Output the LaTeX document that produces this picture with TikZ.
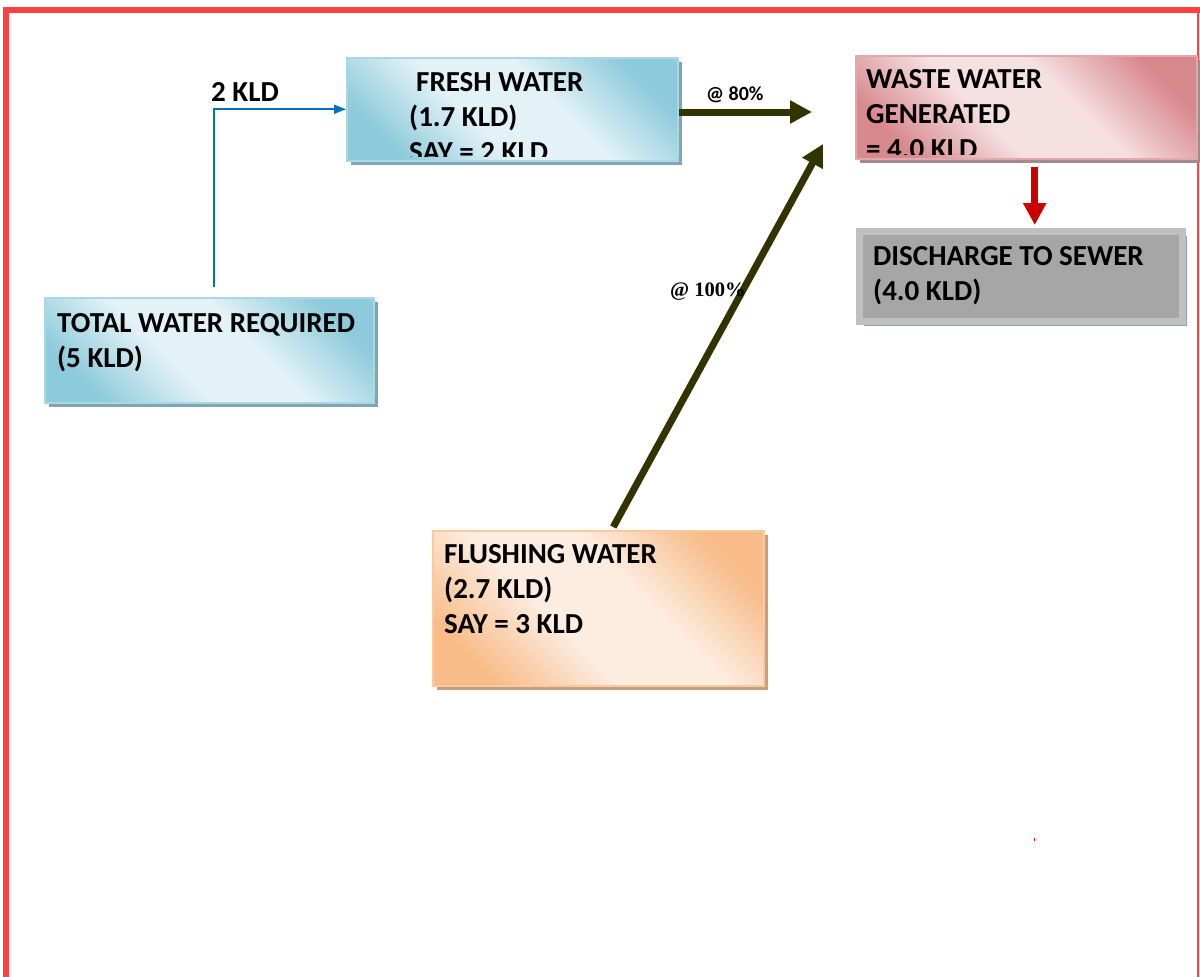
\documentclass[tikz,border=0pt]{standalone}
\usepackage{fontspec}
\setmainfont{Carlito}
\newfontfamily\serifbold{Liberation Serif}
\usepackage{xcolor}
\usetikzlibrary{arrows.meta,calc,shadows}

\definecolor{framered}{HTML}{FF4040}
\definecolor{blueedge}{HTML}{8DCADB}
\definecolor{bluemid}{HTML}{E3F2F7}
\definecolor{blueline}{HTML}{A9D8E4}
\definecolor{blueshadow}{HTML}{7FA6B2}
\definecolor{pinkedge}{HTML}{D8898E}
\definecolor{pinkmid}{HTML}{F6E1E2}
\definecolor{pinkline}{HTML}{E1A9AC}
\definecolor{pinkshadow}{HTML}{A58A8C}
\definecolor{orangeedge}{HTML}{F8BC88}
\definecolor{orangemid}{HTML}{FDEDE1}
\definecolor{orangeline}{HTML}{F9C9A0}
\definecolor{orangeshadow}{HTML}{C9A07F}
\definecolor{grayouter}{HTML}{C0C0C0}
\definecolor{grayinner}{HTML}{A6A6A6}
\definecolor{grayshadow}{HTML}{8CA6B0}
\definecolor{olivearrow}{HTML}{333300}
\definecolor{flowblue}{HTML}{0070C0}
\definecolor{sewerred}{HTML}{CC0000}

\pgfdeclareverticalshading{bluewash}{100bp}{color(0bp)=(blueedge); color(24bp)=(blueedge); color(42bp)=(bluemid); color(58bp)=(bluemid); color(76bp)=(blueedge); color(100bp)=(blueedge)}
\pgfdeclareverticalshading{pinkwash}{100bp}{color(0bp)=(pinkedge); color(24bp)=(pinkedge); color(42bp)=(pinkmid); color(58bp)=(pinkmid); color(76bp)=(pinkedge); color(100bp)=(pinkedge)}
\pgfdeclareverticalshading{orangewash}{100bp}{color(0bp)=(orangeedge); color(24bp)=(orangeedge); color(42bp)=(orangemid); color(58bp)=(orangemid); color(76bp)=(orangeedge); color(100bp)=(orangeedge)}

\begin{document}
\begin{tikzpicture}[
        x=1pt, y=-1pt,
        box/.style={rectangle, anchor=north west, inner sep=0pt, line width=1.5pt},
        shadowed/.style={drop shadow={shadow xshift=4pt, shadow yshift=-4pt, fill=#1, opacity=1}},
        bluebox/.style={box, draw=blueline, shading=bluewash, shading angle=-45, shadowed=blueshadow},
        pinkbox/.style={box, draw=pinkline, shading=pinkwash, shading angle=-45, shadowed=pinkshadow},
        orangebox/.style={box, draw=orangeline, shading=orangewash, shading angle=-45, shadowed=orangeshadow},
        graybox/.style={box, draw=grayouter, fill=grayinner, line width=7pt, shadowed=grayshadow},
        boxtext/.style={anchor=base west, inner sep=0pt, align=left, font=\fontsize{29pt}{35pt}\selectfont\bfseries},
        flowline/.style={draw=flowblue, line width=1.6pt, -{Triangle[length=12pt,width=9pt]}},
        thickflow/.style={draw=olivearrow, line width=7pt, -{Triangle[length=22pt,width=22pt]}},
        sewerflow/.style={draw=sewerred, line width=7pt, -{Triangle[length=22pt,width=22pt]}}
    ]
        \useasboundingbox (0,0) rectangle (1200,977);
        % page frame
        \fill[framered] (3,7) rectangle (9,977);
        \fill[framered] (3,7) rectangle (1200,13);
        \draw[framered, line width=1.5pt] (1198,13) -- (1198,977);
        \fill[red] (1033.5,838) rectangle (1035,841);

        \node[bluebox, minimum width=331pt, minimum height=103pt] (fresh) at (346,57) {};
        \node[pinkbox, minimum width=341pt, minimum height=103pt] (waste) at (855,55) {};
        \node[graybox, minimum width=323pt, minimum height=90pt] (sewer) at (856,228) {};
        \node[bluebox, minimum width=329pt, minimum height=105pt] (total) at (44,297) {};
        \node[orangebox, minimum width=331pt, minimum height=155pt] (flush) at (432,530) {};

        % base anchor = last line
        \begin{scope}
            \clip (fresh.north west) rectangle ([yshift=5pt]fresh.south east);
            \node[boxtext] (freshtext) at (409,161) {\hspace{7pt}FRESH WATER\\(1.7 KLD)\\SAY = 2 KLD};
        \end{scope}
        \begin{scope}
            \clip (waste.north west) rectangle ([yshift=5pt]waste.south east);
            \node[boxtext] (wastetext) at (866,158) {WASTE WATER\\GENERATED\\= 4.0 KLD};
        \end{scope}
        \node[boxtext] (sewertext) at (873,300) {DISCHARGE TO SEWER\\(4.0 KLD)};
        \node[boxtext] (totaltext) at (57,367) {TOTAL WATER REQUIRED\\(5 KLD)};
        \node[boxtext] (flushtext) at (444,633) {FLUSHING WATER\\(2.7 KLD)\\SAY = 3 KLD};

        \coordinate (wastein) at (812,112);
        \coordinate (wastejoin) at (823,144);
        \draw[flowline] ([xshift=5pt,yshift=10pt]total.north) |- (fresh.west);
        \draw[thickflow] (fresh.east |- wastein) -- (wastein);
        \draw[thickflow] ([xshift=15pt,yshift=3pt]flush.north) -- (wastejoin);
        \draw[sewerflow] ([xshift=8.5pt,yshift=-7pt]waste.south) coordinate (drop) -- ([yshift=3pt]drop |- sewer.north);

        \node[boxtext] (freshflow) at (211,101) {2 KLD};
        \node[anchor=base west, inner sep=0pt, font=\fontsize{20pt}{22pt}\selectfont\bfseries] (ratefresh) at (706,100) {@ 80\%};
        \node[anchor=base west, inner sep=0pt, font=\fontsize{20.5pt}{22pt}\selectfont\serifbold\bfseries] (rateflush) at (670,296) {@ 100\%};
    \end{tikzpicture}
\end{document}
